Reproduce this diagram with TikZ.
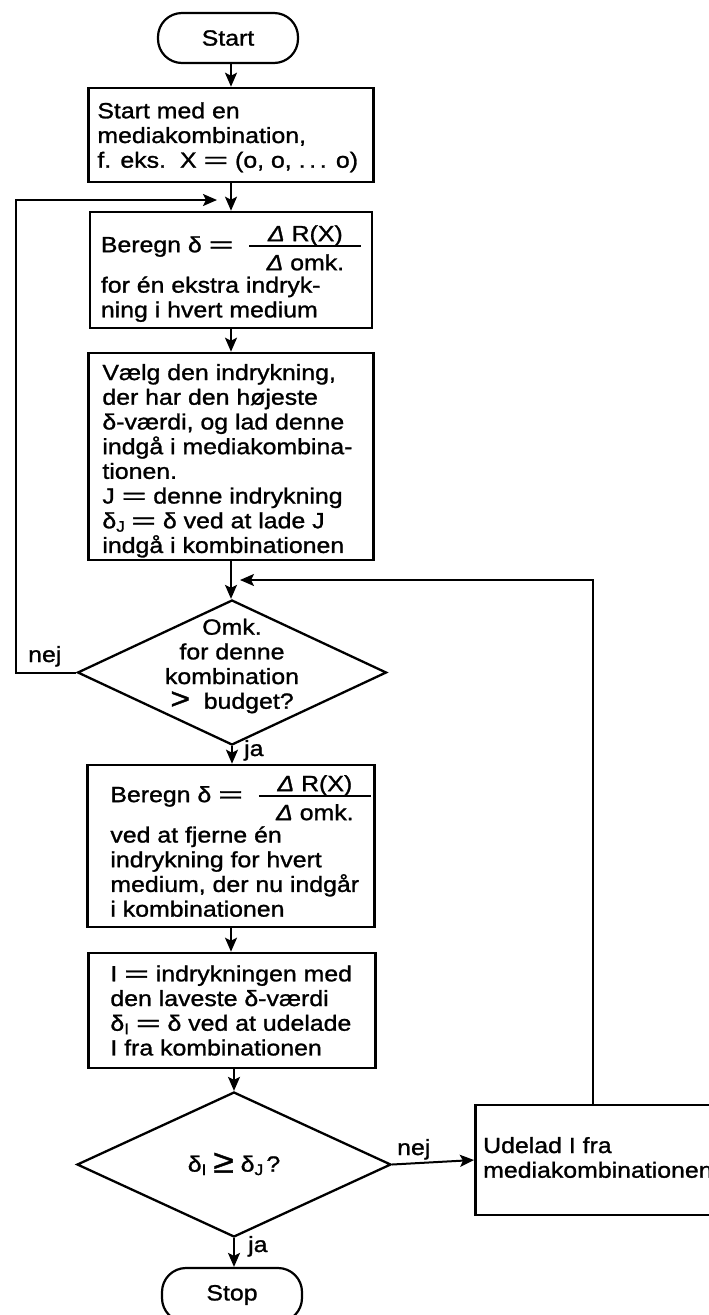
\documentclass[tikz,border=0pt]{standalone}
\usepackage{fontspec}
\usepackage{graphicx}
\setmainfont{Liberation Sans}[FakeStretch=1.13, RawFeature={embolden=1.2}]
\usetikzlibrary{shapes.geometric,arrows.meta}
\newcommand{\myfs}{\fontsize{22}{24.7}\selectfont}
\newcommand{\myeq}{\scalebox{1.7}[1]{=}}
\newcommand{\mydel}{\textit{Δ}}
\newcommand{\myfrac}[2]{\hbox{\rlap{\raise11pt\hbox to 112pt{\hfil #1\hfil}}\rlap{\raise5pt\hbox{\vrule width 112pt height 2pt depth 0pt}}\rlap{\lower18pt\hbox to 112pt{\hfil #2\hfil}}\hskip112pt}}
\begin{document}
\begin{tikzpicture}[x=1pt,y=-1pt,
  box/.style={draw, line width=2.6pt, rectangle, inner sep=0pt},
  term/.style={draw, line width=2.2pt, rounded corners=24pt, inner sep=0pt, minimum width=140pt, font=\myfs},
  dia/.style={draw, diamond, line width=2.3pt, inner sep=0pt},
  txt/.style={align=left, inner sep=0pt, font=\myfs},
  ctxt/.style={align=center, inner sep=0pt, font=\myfs},
  lbl/.style={inner sep=0pt, font=\myfs, anchor=base west},
  arr/.style={line width=2pt, -{Stealth[length=14pt,width=12pt,inset=3pt]}}]
\path[use as bounding box, fill=white] (0,0) rectangle (709,1315);
% terminals and boxes
\node[term, minimum height=50pt] (start) at (228,38) {Start};
\node[box, minimum width=285pt, minimum height=94pt] (b1) at (231,135) {};
\node[txt, anchor=west] (t1) at ([xshift=10pt,yshift=-2.3pt]b1.west) {Start med en\\mediakombination,\\f. eks.\hspace{14pt}X \myeq{} (o, o, .\,.\,. o)};
\node[box, minimum width=282pt, minimum height=116pt] (b2) at (231,270) {};
\node[txt, anchor=west] (t2) at ([xshift=12pt,yshift=-3.6pt]b2.west) {Beregn δ \myeq\hspace{16pt}\myfrac{\mydel{} R(X)}{\mydel{} omk.}\\[5pt]for én ekstra indryk-\\ning i hvert medium};
\node[box, minimum width=285pt, minimum height=207pt] (b3) at (231,456.5) {};
\node[txt, anchor=west] (t3) at ([xshift=15pt,yshift=-4.3pt]b3.west) {Vælg den indrykning,\\der har den højeste\\δ-værdi, og lad denne\\indgå i mediakombina-\\tionen.\\J \myeq{} denne indrykning\\δ$_\mathrm{J}$ \myeq{} δ ved at lade J\\indgå i kombinationen};
\node[dia, minimum width=309pt, minimum height=145pt] (d1) at (232,672.5) {};
\node[ctxt] (t4) at (232,666) {Omk.\\for denne\\kombination\\\smash{\scalebox{1.35}{>}}\ \ budget?};
\node[box, minimum width=287pt, minimum height=162pt] (b4) at (231,846) {};
\node[txt, anchor=west] (t5) at ([xshift=24pt]b4.west) {Beregn δ \myeq\hspace{16pt}\myfrac{\mydel{} R(X)}{\mydel{} omk.}\\[5pt]ved at fjerne én\\indrykning for hvert\\medium, der nu indgår\\i kombinationen};
\node[box, minimum width=287pt, minimum height=115pt] (b5) at (232,1010.5) {};
\node[txt, anchor=west] (t6) at ([xshift=23pt]b5.west) {I \myeq{} indrykningen med\\den laveste δ-værdi\\δ$_\mathrm{I}$ \myeq{} δ ved at udelade\\I fra kombinationen};
\node[dia, minimum width=314pt, minimum height=145pt] (d2) at (234,1164.5) {};
\node[ctxt] (t7) at (234,1164) {δ$_\mathrm{I}$ \raisebox{-1pt}{\scalebox{1.5}{≥}} δ$_\mathrm{J}$\,?};
\node[box, minimum width=290pt, minimum height=110pt, anchor=west] (b6) at (474,1160) {};
\node[txt, anchor=west] (t8) at ([xshift=9pt,yshift=2.5pt]b6.west) {Udelad I fra\\mediakombinationen};
\node[term, minimum height=54pt] (stop) at (232,1295) {Stop};
% labels
\node[lbl] (nej1) at (28,662) {nej};
\node[lbl] (ja1) at (244,756) {ja};
\node[lbl] (nej2) at (397,1155) {nej};
\node[lbl] (ja2) at (248,1252) {ja};
% helper coordinates
\coordinate (lf1) at (16,672.5);
\coordinate (lf2) at (16,200);
\coordinate (lf3) at (217,200);
\coordinate (rf1) at (593,580);
\coordinate (rf2) at (240,580);
% connectors
\draw[arr] (b1.north |- start.south) -- (b1.north);
\draw[arr] (b1.south) -- (b1.south |- b2.north);
\draw[arr] (b2.south) -- (b2.south |- b3.north);
\draw[arr] (b3.south) -- (b3.south |- d1.north);
\draw[arr] (d1.south) -- (d1.south |- b4.north);
\draw[arr] (b4.south) -- (b4.south |- b5.north);
\draw[arr] (d2.north |- b5.south) -- (d2.north);
\draw[arr] (d2.east) -- (b6.west);
\draw[arr] (d2.south) -- (d2.south |- stop.north);
\draw[arr] (d1.west) -- (lf1) -- (lf2) -- (lf3);
\draw[arr] (b6.north -| rf1) -- (rf1) -- (rf2);
\end{tikzpicture}
\end{document}
